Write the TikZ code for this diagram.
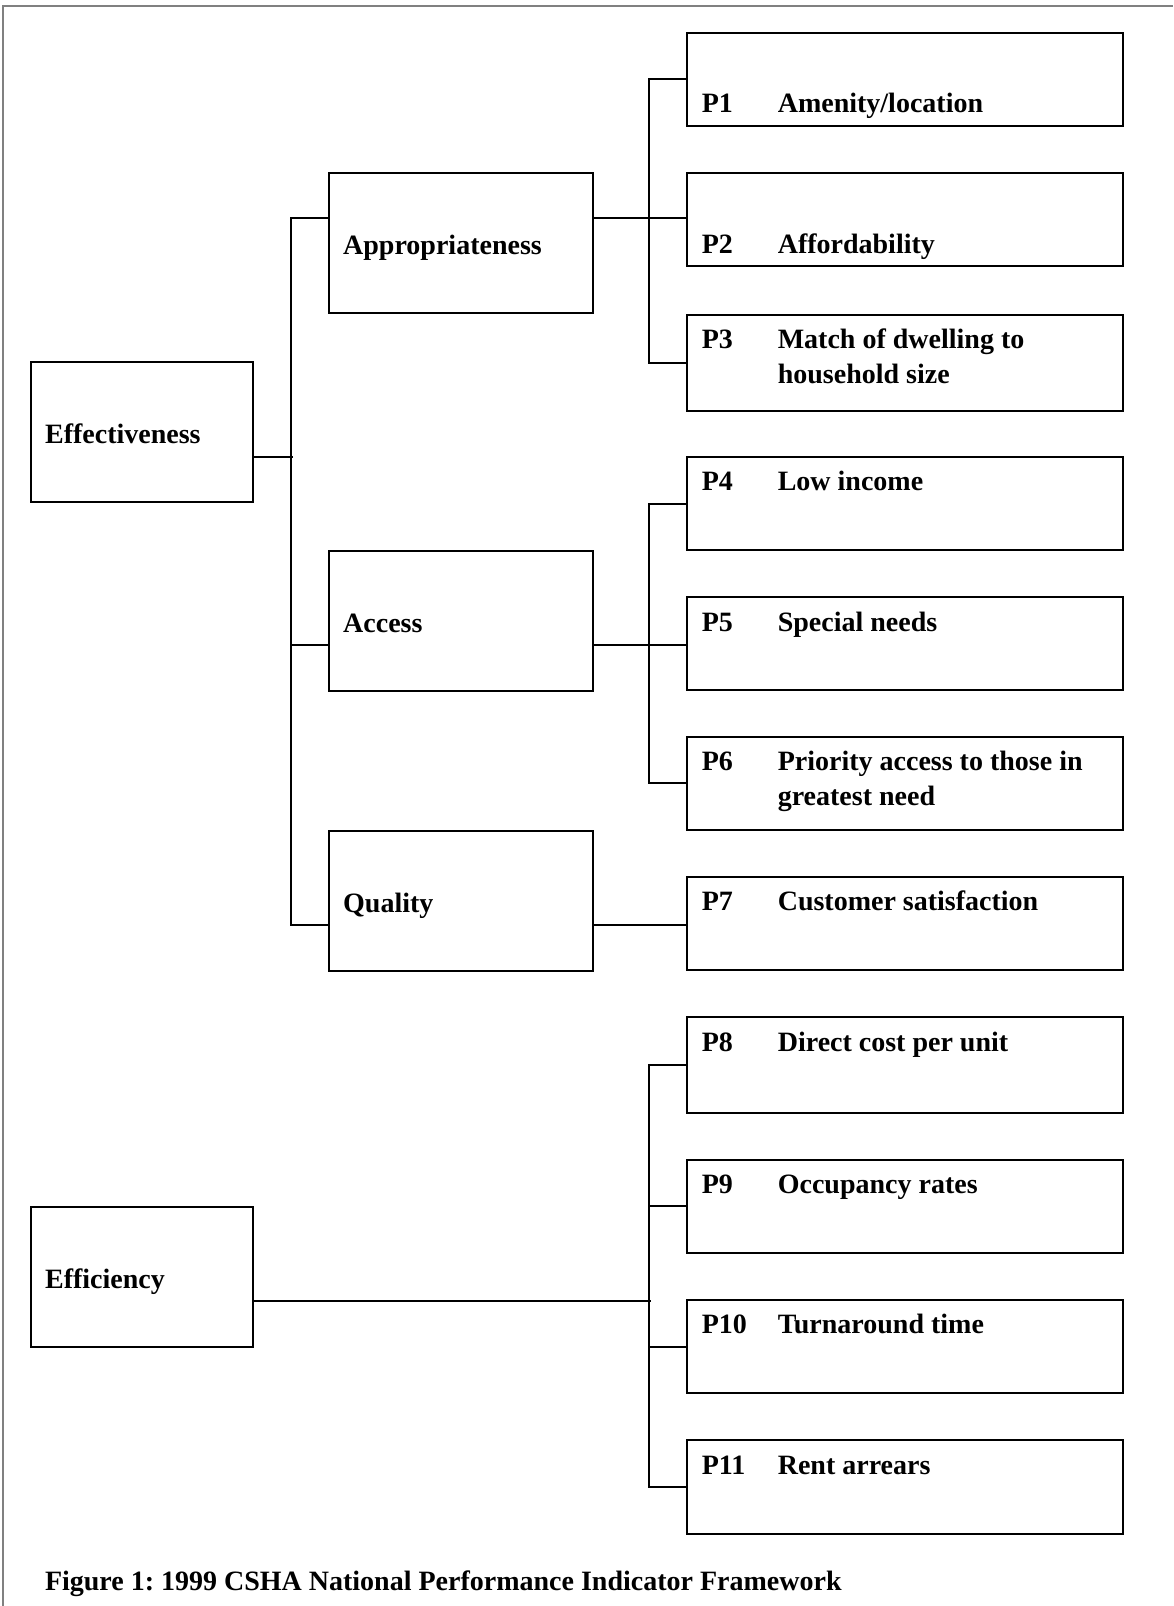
\documentclass[tikz,border=0pt]{standalone}
\usepackage{fontspec}
\setmainfont{Liberation Serif}
\usetikzlibrary{calc}
\newcommand\pfont{\fontsize{14}{17.4}\selectfont\bfseries}
\newcommand\ptxt[2]{\makebox[38pt][l]{#1}\begin{tabular}[t]{@{}l@{}}#2\end{tabular}}
\frenchspacing

\begin{document}
\begin{tikzpicture}[x=0.5pt, y=-0.5pt, line width=1pt,
	every node/.style={font=\pfont},
	catbox/.style={draw, anchor=north west, inner xsep=7.2pt, text width=#1, text height=12pt, text depth=0.5pt, align=left, minimum height=70pt},
	pbox/.style={draw, anchor=north west, minimum width=217.7pt, minimum height=46.6pt},
	ptop/.style={label={[anchor=base west, inner sep=0pt, xshift=7.2pt, yshift=-17.4pt]north west:#1}},
	plow/.style={label={[anchor=base west, inner sep=0pt, xshift=7.2pt, yshift=-40.5pt]north west:#1}}]
	\useasboundingbox (0,0) rectangle (1173,1606);
	\draw[line width=0.6pt, gray] (3,1606) -- (3,6) -- (1173,6);
	% left column
	\node[catbox=96.8pt] (eff) at (29.7,360.6) {Effectiveness};
	\node[catbox=96.8pt] (effic) at (29.7,1205.8) {Efficiency};
	% middle column
	\node[catbox=117.8pt] (appr) at (327.8,172.1) {Appropriateness};
	\node[catbox=117.8pt] (acc) at (327.8,550.1) {Access};
	\node[catbox=117.8pt] (qual) at (327.8,829.8) {Quality};
	% indicators
	\node[pbox, plow={\ptxt{P1}{Amenity/location}}] (p1) at (686.4,31.8) {};
	\node[pbox, plow={\ptxt{P2}{Affordability}}] (p2) at (686.4,172.1) {};
	\node[pbox, minimum height=48.2pt, ptop={\ptxt{P3}{Match of dwelling to\\household size}}] (p3) at (686.4,313.5) {};
	\node[pbox, ptop={\ptxt{P4}{Low income}}] (p4) at (686.4,455.9) {};
	\node[pbox, ptop={\ptxt{P5}{Special needs}}] (p5) at (686.4,596.2) {};
	\node[pbox, ptop={\ptxt{P6}{Priority access to those in\\greatest need}}] (p6) at (686.4,735.6) {};
	\node[pbox, ptop={\ptxt{P7}{Customer satisfaction}}] (p7) at (686.4,875.9) {};
	\node[pbox, minimum height=47.6pt, ptop={\ptxt{P8}{Direct cost per unit}}] (p8) at (686.4,1016.3) {};
	\node[pbox, ptop={\ptxt{P9}{Occupancy rates}}] (p9) at (686.4,1158.7) {};
	\node[pbox, ptop={\ptxt{P10}{Turnaround time}}] (p10) at (686.4,1299.0) {};
	\node[pbox, ptop={\ptxt{P11}{Rent arrears}}] (p11) at (686.4,1439.4) {};
	\node[anchor=base west, inner sep=0pt] (caption) at (44,1590) {Figure 1: 1999 CSHA National Performance Indicator Framework};
	% connector ends
	\coordinate (effout) at ($(eff.north east)!.68!(eff.south east)$);
	\coordinate (efficout) at ($(effic.north east)!.67!(effic.south east)$);
	\coordinate (apprin) at ($(appr.north west)!.32!(appr.south west)$);
	\coordinate (approut) at ($(appr.north east)!.32!(appr.south east)$);
	\coordinate (accin) at ($(acc.north west)!.67!(acc.south west)$);
	\coordinate (accout) at ($(acc.north east)!.67!(acc.south east)$);
	\coordinate (qualin) at ($(qual.north west)!.67!(qual.south west)$);
	\coordinate (qualout) at ($(qual.north east)!.67!(qual.south east)$);
	% effectiveness tree
	\draw (effout) -- ++(38.9,0);
	\draw (apprin) -- ++(-36.9,0) |- (qualin);
	\draw (accin) -- ++(-36.9,0);
	\draw (p1.west) -- ++(-37.9,0) |- (p3.west);
	\draw (approut) -- (approut -| p2.west);
	\draw (p4.west) -- ++(-37.9,0) |- (p6.west);
	\draw (accout) -- (accout -| p5.west);
	\draw (qualout) -- (qualout -| p7.west);
	% efficiency tree
	\draw (p8.west) -- ++(-37.9,0) |- (p11.west);
	\draw (p9.west) -- ++(-37.9,0);
	\draw (p10.west) -- ++(-37.9,0);
	\draw (efficout) -- ++(396.5,0);
\end{tikzpicture}
\end{document}
